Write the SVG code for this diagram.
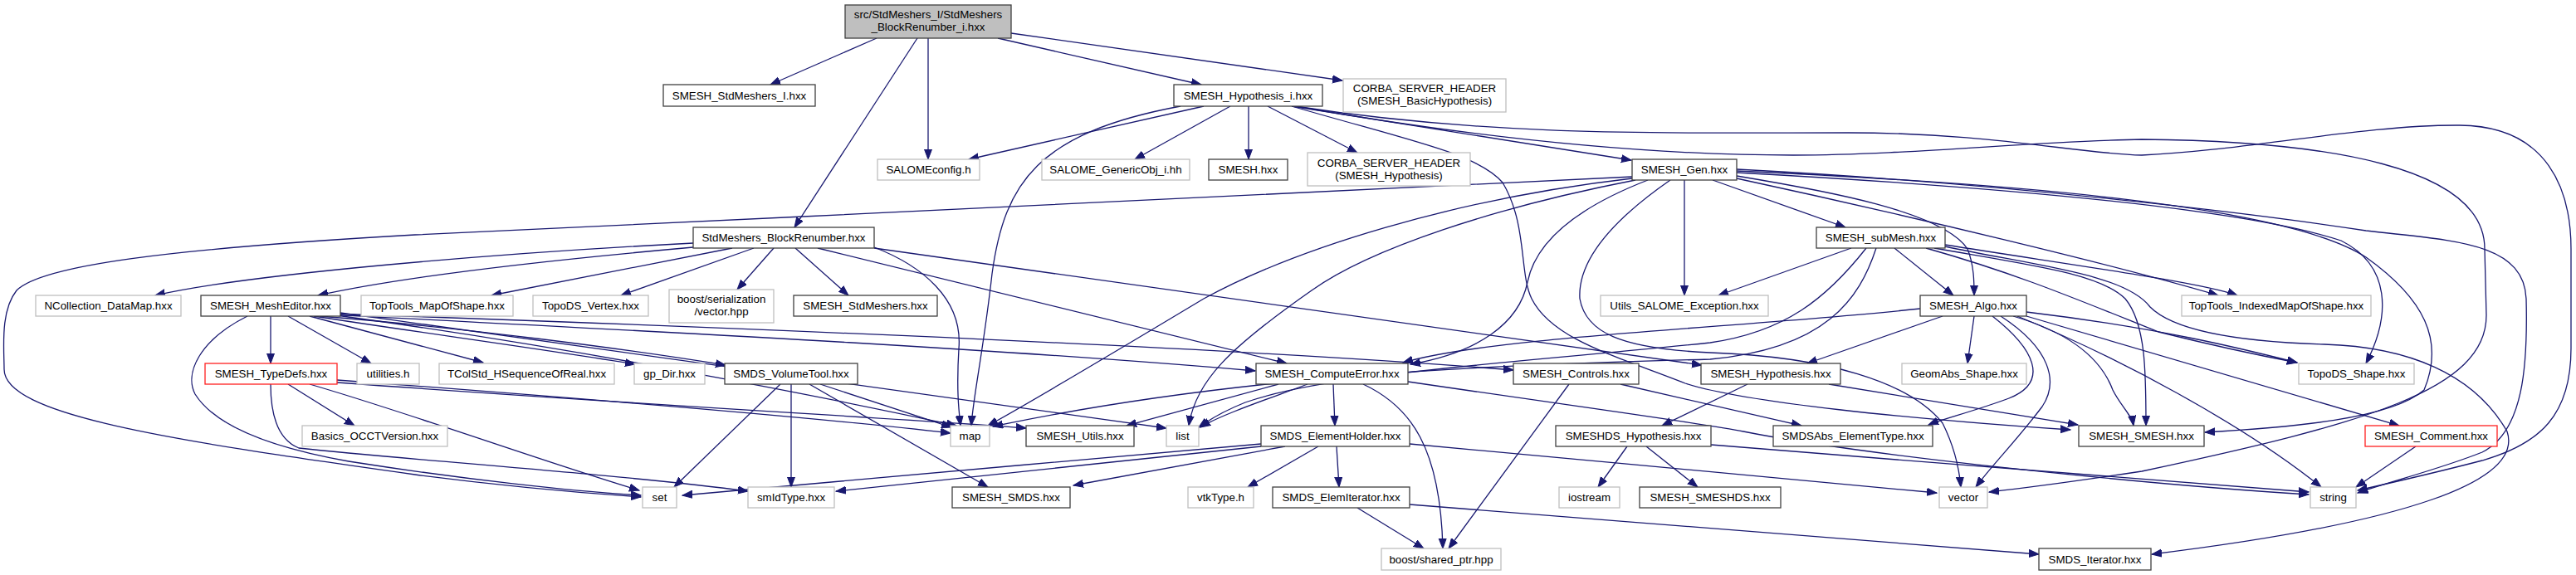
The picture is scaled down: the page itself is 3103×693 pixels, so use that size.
<svg xmlns="http://www.w3.org/2000/svg" width="3103" height="693" viewBox="0 0 3103 693">
<style>
.n rect{fill:#fff;stroke-width:1.3}
.b rect{stroke:#404040}
.g rect{stroke:#bfbfbf}
.r rect{stroke:#ff2020}
#n0 rect{fill:#bfbfbf;stroke:#404040}
text{font-family:"Liberation Sans",Arial,sans-serif;font-size:13.33px;text-anchor:middle;fill:#000}
#edges path{fill:none;stroke:#191970;stroke-width:1.3;marker-end:url(#a)}
</style>
<defs>
<marker id="a" markerUnits="userSpaceOnUse" markerWidth="14" markerHeight="11" refX="12" refY="5" orient="auto"><path d="M0,0.5 L12,5 L0,9.5 z" fill="#191970" stroke="#191970" stroke-width="1"/></marker>
</defs>
<rect width="3103" height="693" fill="#fff"/>
<g id="edges">
<path d="M1056,46 L928,102"/>
<path d="M1105,46 L957,274"/>
<path d="M1118,46 L1118,192"/>
<path d="M1202,46 L1447,102"/>
<path d="M1218,40 L1617,97"/>
<path d="M1450,128 L1167,192"/>
<path d="M1422,128 C1250,160 1210,220 1195,330 C1185,420 1172,480 1170,513"/>
<path d="M1482,128 L1367,192"/>
<path d="M1504,128 L1504,192"/>
<path d="M1527,128 L1635,184"/>
<path d="M1556,128 L1965,193"/>
<path d="M1560,128 C1800,165 2000,160 2227,160 C2400,160 2500,185 2580,187 C2700,182 2850,150 2963,151 C3070,152 3097,230 3097,300 L3097,420 C3097,500 3060,535 2990,555 C2940,568 2880,582 2840,591"/>
<path d="M1560,128 C1800,170 2000,187 2160,187 C2300,187 2450,170 2580,168 C2800,170 2993,200 2993,300 L2995,380 C2995,470 2850,510 2580,568 C2500,580 2440,588 2396,593"/>
<path d="M1556,128 C1700,170 1780,185 1810,220 C1840,270 1830,330 1845,360 C1870,410 1950,430 2030,462 C2100,485 2300,505 2494,518"/>
<path d="M2029,217 L2029,356"/>
<path d="M2063,217 L2223,274"/>
<path d="M2092,212 C2200,230 2340,255 2370,300 C2378,320 2378,340 2378,356"/>
<path d="M2092,215 C2300,260 2550,320 2672,356"/>
<path d="M2092,208 C2400,225 2700,250 2820,290 C2880,320 2880,380 2850,438"/>
<path d="M2092,206 C2400,220 2750,245 2850,310 C2920,360 2945,410 2920,470 C2880,505 2760,515 2656,521"/>
<path d="M2092,204 C2400,220 2700,255 2850,278 C2950,290 3040,290 3043,360 C3045,440 3040,520 2990,545 C2940,565 2880,580 2840,594"/>
<path d="M1966,213 C1600,230 1000,260 500,283 C200,300 50,320 20,350 C0,375 5,420 5,445 C5,500 200,530 500,572 C600,585 700,594 772,599"/>
<path d="M1966,215 C1750,240 1560,300 1450,360 C1350,420 1250,480 1190,513"/>
<path d="M1970,217 C1800,250 1650,300 1580,350 C1480,420 1440,460 1432,513"/>
<path d="M1985,217 C1900,250 1850,290 1840,340 C1830,390 1780,425 1699,439"/>
<path d="M2012,217 C1950,260 1900,310 1903,360 C1910,400 1950,420 2060,425 C2200,430 2300,460 2340,510 C2355,540 2360,565 2362,587"/>
<path d="M835,293 C600,305 300,330 187,356"/>
<path d="M835,298 C700,310 500,330 383,356"/>
<path d="M882,299 L592,356"/>
<path d="M908,299 L748,356"/>
<path d="M932,299 L888,349"/>
<path d="M958,299 L1022,356"/>
<path d="M1053,298 C1110,320 1160,360 1155,420 C1152,470 1155,495 1157,513"/>
<path d="M1053,299 L2050,440"/>
<path d="M985,299 L1550,438"/>
<path d="M326,381 L326,438"/>
<path d="M347,381 L447,438"/>
<path d="M298,381 C240,410 222,450 235,475 C260,515 330,540 420,556 C560,578 690,592 772,597"/>
<path d="M373,381 L582,437"/>
<path d="M378,381 C500,400 650,420 765,439"/>
<path d="M385,381 C560,395 750,420 874,440"/>
<path d="M395,379 C800,400 1200,420 1512,447"/>
<path d="M400,378 C900,395 1500,420 1823,446"/>
<path d="M405,380 C700,420 1000,480 1152,513"/>
<path d="M410,377 C800,430 1200,490 1405,516"/>
<path d="M347,463 L427,513"/>
<path d="M373,463 C500,500 650,555 770,591"/>
<path d="M326,463 C326,500 335,530 360,540 C500,555 750,572 901,592"/>
<path d="M406,458 C700,480 1000,505 1145,522"/>
<path d="M406,461 C800,490 1100,505 1236,516"/>
<path d="M940,463 L812,587"/>
<path d="M953,463 L953,587"/>
<path d="M975,463 L1190,587"/>
<path d="M988,463 L1146,515"/>
<path d="M1540,463 L1357,513"/>
<path d="M1575,463 C1530,480 1470,500 1446,515"/>
<path d="M1606,463 L1608,513"/>
<path d="M1642,463 C1700,490 1735,540 1738,661"/>
<path d="M1696,460 C1900,490 2050,510 2100,520 C2250,550 2600,585 2781,596"/>
<path d="M1890,463 L1745,661"/>
<path d="M1952,463 L2170,513"/>
<path d="M2105,463 L2002,513"/>
<path d="M2203,463 L2503,512"/>
<path d="M1960,538 L1925,587"/>
<path d="M1983,538 L2045,587"/>
<path d="M2061,536 C2300,555 2600,580 2781,593"/>
<path d="M1610,538 L1613,587"/>
<path d="M1588,538 L1503,587"/>
<path d="M1548,538 L1293,585"/>
<path d="M1519,535 C1300,555 1000,580 822,597"/>
<path d="M1519,538 C1300,562 1100,582 1007,592"/>
<path d="M1698,535 C1900,555 2150,575 2333,594"/>
<path d="M1635,612 L1715,661"/>
<path d="M1698,608 L2456,668"/>
<path d="M2910,538 L2838,587"/>
<path d="M2230,299 L2070,356"/>
<path d="M2282,299 L2353,356"/>
<path d="M2343,295 C2500,320 2650,340 2695,356"/>
<path d="M2343,297 C2450,320 2560,330 2590,370 C2620,400 2700,412 2800,415 C2900,418 2980,450 3020,520 C3040,580 2900,630 2592,668"/>
<path d="M2330,299 C2450,320 2530,330 2560,360 C2585,390 2585,450 2585,513"/>
<path d="M2320,299 C2430,330 2500,360 2600,400 C2680,420 2730,430 2767,437"/>
<path d="M2248,299 C2200,360 2150,400 2060,413 C1800,440 1600,450 1500,485 C1470,497 1455,507 1444,515"/>
<path d="M2260,299 C2240,360 2200,420 2060,433 C1800,440 1500,450 1196,514"/>
<path d="M2378,381 L2370,438"/>
<path d="M2340,381 L2177,438"/>
<path d="M2400,381 C2450,420 2470,460 2420,480 C2380,495 2340,505 2323,512"/>
<path d="M2410,381 C2470,420 2480,460 2460,490 C2430,530 2400,560 2380,587"/>
<path d="M2425,381 C2490,400 2530,430 2545,470 C2555,490 2568,500 2570,513"/>
<path d="M2441,376 C2600,395 2700,420 2767,437"/>
<path d="M2441,381 L2890,513"/>
<path d="M2430,381 C2550,430 2700,510 2796,587"/>
<path d="M2313,372 C2100,395 1800,405 1690,437"/>
</g>
<g id="n0" class="n"><rect x="1018" y="6" width="200" height="40"/><text x="1118" y="22">src/StdMeshers_I/StdMeshers</text><text x="1118" y="37">_BlockRenumber_i.hxx</text></g>
<g id="n1" class="n b"><rect x="799" y="102" width="183" height="26"/><text x="890.5" y="119.5">SMESH_StdMeshers_I.hxx</text></g>
<g id="n2" class="n b"><rect x="1414" y="102" width="179" height="26"/><text x="1503.5" y="119.5">SMESH_Hypothesis_i.hxx</text></g>
<g id="n3" class="n g"><rect x="1618" y="95" width="196" height="40"/><text x="1716" y="111">CORBA_SERVER_HEADER</text><text x="1716" y="126">(SMESH_BasicHypothesis)</text></g>
<g id="n4" class="n g"><rect x="1057" y="192" width="123" height="25"/><text x="1118.5" y="209">SALOMEconfig.h</text></g>
<g id="n5" class="n g"><rect x="1255" y="192" width="178" height="25"/><text x="1344" y="209">SALOME_GenericObj_i.hh</text></g>
<g id="n6" class="n b"><rect x="1456" y="192" width="95" height="25"/><text x="1503.5" y="209">SMESH.hxx</text></g>
<g id="n7" class="n g"><rect x="1575" y="184" width="196" height="40"/><text x="1673" y="201">CORBA_SERVER_HEADER</text><text x="1673" y="215.5">(SMESH_Hypothesis)</text></g>
<g id="n8" class="n b"><rect x="1966" y="192" width="126" height="25"/><text x="2029" y="209">SMESH_Gen.hxx</text></g>
<g id="n9" class="n b"><rect x="835" y="274" width="218" height="25"/><text x="944" y="291">StdMeshers_BlockRenumber.hxx</text></g>
<g id="n10" class="n b"><rect x="2188" y="274" width="155" height="25"/><text x="2265.5" y="291">SMESH_subMesh.hxx</text></g>
<g id="n11" class="n g"><rect x="43" y="356" width="175" height="25"/><text x="130.5" y="373">NCollection_DataMap.hxx</text></g>
<g id="n12" class="n b"><rect x="242" y="356" width="168" height="25"/><text x="326" y="373">SMESH_MeshEditor.hxx</text></g>
<g id="n13" class="n g"><rect x="435" y="356" width="183" height="25"/><text x="526.5" y="373">TopTools_MapOfShape.hxx</text></g>
<g id="n14" class="n g"><rect x="642" y="356" width="139" height="25"/><text x="711.5" y="373">TopoDS_Vertex.hxx</text></g>
<g id="n15" class="n g"><rect x="806" y="349" width="126" height="40"/><text x="869" y="365">boost/serialization</text><text x="869" y="379.5">/vector.hpp</text></g>
<g id="n16" class="n b"><rect x="956" y="356" width="173" height="25"/><text x="1042.5" y="373">SMESH_StdMeshers.hxx</text></g>
<g id="n17" class="n g"><rect x="1928" y="356" width="202" height="25"/><text x="2029" y="373">Utils_SALOME_Exception.hxx</text></g>
<g id="n18" class="n b"><rect x="2313" y="356" width="128" height="25"/><text x="2377" y="373">SMESH_Algo.hxx</text></g>
<g id="n19" class="n g"><rect x="2628" y="356" width="228" height="25"/><text x="2742" y="373">TopTools_IndexedMapOfShape.hxx</text></g>
<g id="n20" class="n r"><rect x="247" y="438" width="159" height="25"/><text x="326.5" y="455">SMESH_TypeDefs.hxx</text></g>
<g id="n21" class="n g"><rect x="430" y="438" width="75" height="25"/><text x="467.5" y="455">utilities.h</text></g>
<g id="n22" class="n g"><rect x="529" y="438" width="211" height="25"/><text x="634.5" y="455">TColStd_HSequenceOfReal.hxx</text></g>
<g id="n23" class="n g"><rect x="764" y="438" width="85" height="25"/><text x="806.5" y="455">gp_Dir.hxx</text></g>
<g id="n24" class="n b"><rect x="873" y="438" width="160" height="25"/><text x="953" y="455">SMDS_VolumeTool.hxx</text></g>
<g id="n25" class="n b"><rect x="1513" y="438" width="183" height="25"/><text x="1604.5" y="455">SMESH_ComputeError.hxx</text></g>
<g id="n26" class="n b"><rect x="1823" y="438" width="151" height="25"/><text x="1898.5" y="455">SMESH_Controls.hxx</text></g>
<g id="n27" class="n b"><rect x="2049" y="438" width="168" height="25"/><text x="2133" y="455">SMESH_Hypothesis.hxx</text></g>
<g id="n28" class="n g"><rect x="2291" y="438" width="150" height="25"/><text x="2366" y="455">GeomAbs_Shape.hxx</text></g>
<g id="n29" class="n g"><rect x="2769" y="438" width="139" height="25"/><text x="2838.5" y="455">TopoDS_Shape.hxx</text></g>
<g id="n30" class="n g"><rect x="364" y="513" width="175" height="25"/><text x="451.5" y="530">Basics_OCCTVersion.hxx</text></g>
<g id="n31" class="n g"><rect x="1145" y="513" width="47" height="25"/><text x="1168.5" y="530">map</text></g>
<g id="n32" class="n b"><rect x="1236" y="513" width="130" height="25"/><text x="1301" y="530">SMESH_Utils.hxx</text></g>
<g id="n33" class="n g"><rect x="1405" y="513" width="39" height="25"/><text x="1424.5" y="530">list</text></g>
<g id="n34" class="n b"><rect x="1519" y="513" width="179" height="25"/><text x="1608.5" y="530">SMDS_ElementHolder.hxx</text></g>
<g id="n35" class="n b"><rect x="1874" y="513" width="187" height="25"/><text x="1967.5" y="530">SMESHDS_Hypothesis.hxx</text></g>
<g id="n36" class="n b"><rect x="2136" y="513" width="192" height="25"/><text x="2232" y="530">SMDSAbs_ElementType.hxx</text></g>
<g id="n37" class="n b"><rect x="2504" y="513" width="151" height="25"/><text x="2579.5" y="530">SMESH_SMESH.hxx</text></g>
<g id="n38" class="n r"><rect x="2849" y="513" width="159" height="25"/><text x="2928.5" y="530">SMESH_Comment.hxx</text></g>
<g id="n39" class="n g"><rect x="774" y="587" width="41" height="25"/><text x="794.5" y="604">set</text></g>
<g id="n40" class="n g"><rect x="901" y="587" width="104" height="25"/><text x="953" y="604">smIdType.hxx</text></g>
<g id="n41" class="n b"><rect x="1147" y="587" width="142" height="25"/><text x="1218" y="604">SMESH_SMDS.hxx</text></g>
<g id="n42" class="n g"><rect x="1431" y="587" width="79" height="25"/><text x="1470.5" y="604">vtkType.h</text></g>
<g id="n43" class="n b"><rect x="1533" y="587" width="165" height="25"/><text x="1615.5" y="604">SMDS_ElemIterator.hxx</text></g>
<g id="n44" class="n g"><rect x="1878" y="587" width="73" height="25"/><text x="1914.5" y="604">iostream</text></g>
<g id="n45" class="n b"><rect x="1975" y="587" width="170" height="25"/><text x="2060" y="604">SMESH_SMESHDS.hxx</text></g>
<g id="n46" class="n g"><rect x="2336" y="587" width="58" height="25"/><text x="2365" y="604">vector</text></g>
<g id="n47" class="n g"><rect x="2783" y="587" width="55" height="25"/><text x="2810.5" y="604">string</text></g>
<g id="n48" class="n g"><rect x="1664" y="661" width="144" height="26"/><text x="1736" y="678.5">boost/shared_ptr.hpp</text></g>
<g id="n49" class="n b"><rect x="2456" y="661" width="135" height="26"/><text x="2523.5" y="678.5">SMDS_Iterator.hxx</text></g>
</svg>
